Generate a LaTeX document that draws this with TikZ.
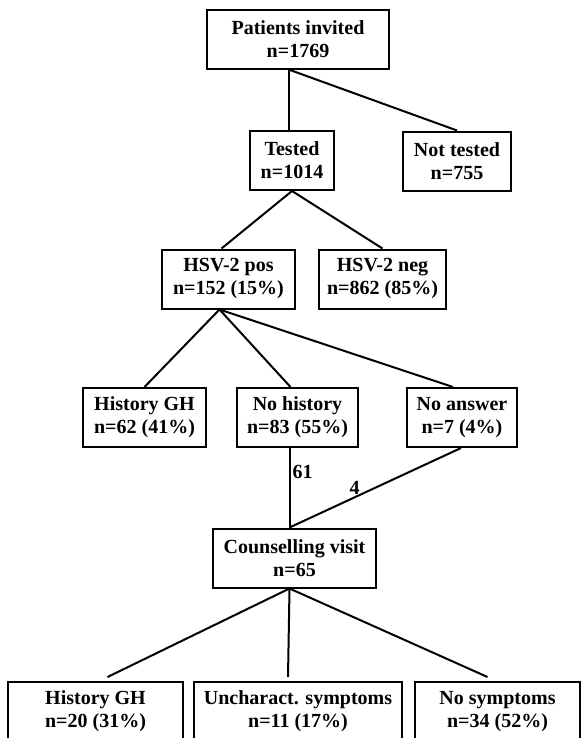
\documentclass[tikz,border=0pt]{standalone}
\usepackage{fontspec}
\setmainfont{Liberation Serif}
\usetikzlibrary{calc}

\begin{document}
\begin{tikzpicture}[x=0.5pt,y=-0.5pt,
box/.style={rectangle, draw=black, line width=1pt, align=center, minimum height=29.5pt, inner sep=2pt, font=\fontsize{10}{11.5}\selectfont\bfseries},
link/.style={draw=black, line width=1pt},
count/.style={inner sep=1pt, font=\fontsize{10}{11.5}\selectfont\bfseries}
]
    \useasboundingbox (0,0) rectangle (581,738);
    \clip (0,0) rectangle (581,738);

    \node [box, minimum width=91pt] (invited) at (298,39.5) {Patients invited\\n=1769};

    \node [box, minimum width=42pt] (tested) at (292,160.5) {Tested\\n=1014};
    \node [box, minimum width=54pt] (nottested) at (457,161) {Not tested\\n=755};

    \node [box, minimum width=66.5pt] (pos) at (228.5,279) {HSV-2 pos\\n=152 (15\%)};
    \node [box, minimum width=63.5pt] (neg) at (382.5,279) {HSV-2 neg\\n=862 (85\%)};

    \node [box, minimum width=61.5pt] (histgh) at (144.5,417.5) {History GH\\n=62 (41\%)};
    \node [box, minimum width=60.5pt] (nohist) at (297.5,417.5) {No history\\n=83 (55\%)};
    \node [box, minimum width=55pt] (noans) at (462,417.5) {No answer\\n=7 (4\%)};

    \node [box, minimum width=81.5pt] (couns) at (294.5,558) {Counselling visit\\n=65};

    \node [box, minimum width=87.5pt] (sym1) at (95.5,711.5) {History GH\\n=20 (31\%)};
    \node [box, minimum width=104pt] (sym2) at (298,711.5) {Uncharact. symptoms\\n=11 (17\%)};
    \node [box, minimum width=82.5pt] (sym3) at (497.5,711.5) {No symptoms\\n=34 (52\%)};

    \draw [link] ($(invited.south)+(-9,0)$) -- ($(tested.north)+(-3,0)$);
    \draw [link] ($(invited.south)+(-8,0)$) -- (nottested.north);

    \draw [link] (tested.south) -- ($(pos.north)+(-7,0)$);
    \draw [link] (tested.south) -- (neg.north);

    \draw [link] ($(pos.south)+(-9,0)$) -- (histgh.north);
    \draw [link] ($(pos.south)+(-9,0)$) -- ($(nohist.north)+(-7,0)$);
    \draw [link] ($(pos.south)+(-9,0)$) -- ($(noans.north)+(-9,0)$);

    \draw [link] ($(nohist.south)+(-8,0)$) -- ($(couns.north)+(-5,0)$) node [count, pos=0.3, right] {61};
    \draw [link] ($(noans.south)+(-1,0)$) -- ($(couns.north)+(-5,0)$) node [count, pos=0.62, above] {4};

    \draw [link] ($(couns.south)+(-5,0)$) -- ($(sym1.north)+(12,-4)$);
    \draw [link] ($(couns.south)+(-5,0)$) -- ($(sym2.north)+(-10,-4)$);
    \draw [link] ($(couns.south)+(-5,0)$) -- ($(sym3.north)+(-10,-4)$);
\end{tikzpicture}
\end{document}
